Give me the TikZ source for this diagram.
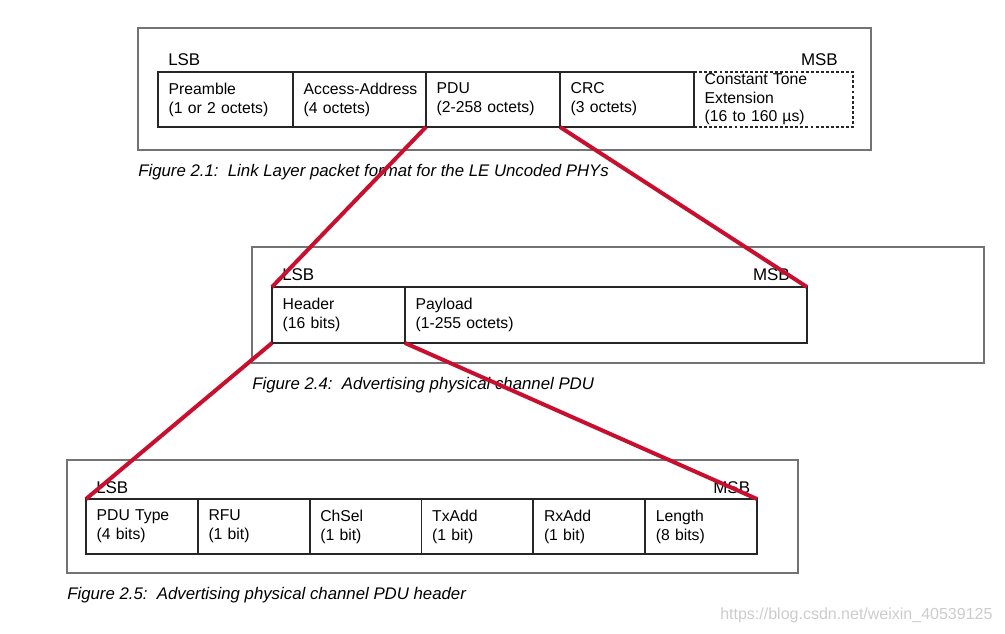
\documentclass[tikz,border=0pt]{standalone}
\usepackage{fontspec}
\setmainfont{Liberation Sans}
\usetikzlibrary{positioning}
\definecolor{cutred}{RGB}{200,16,46}
\tikzset{
	frame/.style={draw=black!55, line width=1.2pt},
	field/.style={draw=black!85, line width=1.3pt, outer sep=0pt, inner xsep=8pt, inner ysep=0pt, minimum height=41.25pt, text width=#1, align=left, font=\fontsize{11.8}{14.2}\selectfont},
	bitlbl/.style={inner sep=0pt, font=\fontsize{12.7}{15}\selectfont},
	caption/.style={anchor=west, inner sep=0pt, font=\itshape\fontsize{12.6}{15}\selectfont},
	cut/.style={draw=cutred, line width=3pt}
}

\begin{document}
\begin{tikzpicture}[x=0.75pt, y=-0.75pt]
		%%%%% START %%%%%
		\useasboundingbox (0,0) rectangle (1005,634);
		
		% Figure 2.1
		\draw[frame] (138,28) rectangle (871,150);
		\node[field=85.25pt, anchor=north west] (pre) at (158,72) {Preamble\\(1 or 2 octets)};
		\node[field=83.75pt, right=0pt of pre] (aa) {\mbox{Access-Address}\\(4 octets)};
		\node[field=84.5pt, right=0pt of aa] (pdu) {PDU\\(2-258 octets)};
		\node[field=84.5pt, right=0pt of pdu] (crc) {CRC\\(3 octets)};
		\node[field=103.25pt, dash pattern=on 2.2pt off 1.6pt, font=\fontsize{11.8}{13.9}\selectfont, right=0pt of crc] (cte) {Constant Tone\\Extension\\(16 to 160 µs)};
		\node[bitlbl, anchor=base west] (lsb1) at ([shift={(7.5pt,4.5pt)}]pre.north west) {LSB};
		\node[bitlbl, anchor=base east] (msb1) at ([shift={(-11.25pt,4.5pt)}]cte.north east) {MSB};
		\node[caption] (cap1) at (138,172) {Figure 2.1:\ \ Link Layer packet format for the LE Uncoded PHYs};
		
		% Figure 2.4
		\draw[frame] (252,247) rectangle (984,363);
		\node[field=83.75pt, minimum height=42pt, anchor=north west] (hdr) at (272,287) {Header\\(16 bits)};
		\node[field=285.5pt, minimum height=42pt, right=0pt of hdr] (pay) {Payload\\(1-255 octets)};
		\node[bitlbl, anchor=base west] (lsb2) at ([shift={(7.5pt,4.5pt)}]hdr.north west) {LSB};
		\node[bitlbl, anchor=base east] (msb2) at ([shift={(-12.75pt,4.5pt)}]pay.north east) {MSB};
		\node[caption] (cap2) at (252,385) {Figure 2.4:\ \ Advertising physical channel PDU};
		
		% Figure 2.5
		\draw[frame] (67,460) rectangle (798,573);
		\node[field=67.875pt, anchor=north west] (ptype) at (86,499) {PDU Type\\(4 bits)};
		\node[field=67.875pt, right=0pt of ptype] (rfu) {RFU\\(1 bit)};
		\node[field=67.875pt, right=0pt of rfu] (chsel) {ChSel\\(1 bit)};
		\node[field=67.875pt, right=0pt of chsel] (txadd) {TxAdd\\(1 bit)};
		\node[field=67.875pt, right=0pt of txadd] (rxadd) {RxAdd\\(1 bit)};
		\node[field=67.875pt, right=0pt of rxadd] (len) {Length\\(8 bits)};
		\node[bitlbl, anchor=base west] (lsb3) at ([shift={(7.5pt,4.5pt)}]ptype.north west) {LSB};
		\node[bitlbl, anchor=base east] (msb3) at ([shift={(-5pt,4.5pt)}]len.north east) {MSB};
		\node[caption] (cap3) at (67,595) {Figure 2.5:\ \ Advertising physical channel PDU header};
		
		% zoom lines
		\draw[cut] (pdu.south west) -- (hdr.north west);
		\draw[cut] (crc.south west) -- (pay.north east);
		\draw[cut] (hdr.south west) -- (ptype.north west);
		\draw[cut] (pay.south west) -- (len.north east);
		
		\node[anchor=west, inner sep=0pt, text=black!20, font=\fontsize{12}{14}\selectfont] (wmark) at (720,615) {https://blog.csdn.net/weixin\_40539125};
		
		%%%%% END %%%%%
	\end{tikzpicture}
\end{document}
